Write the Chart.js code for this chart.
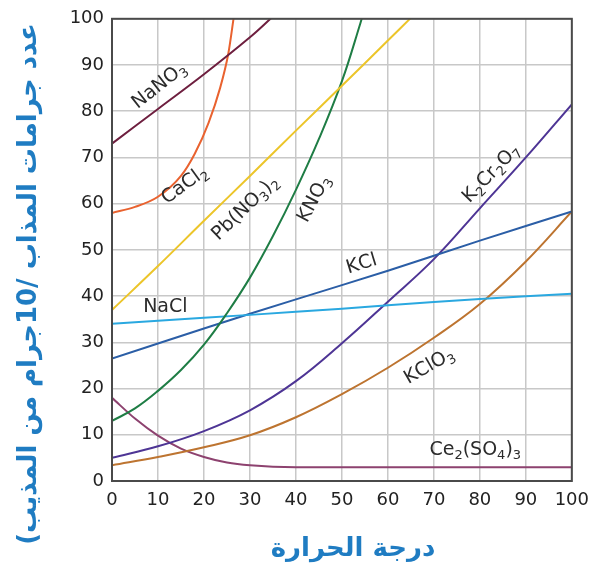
<!DOCTYPE html>
<html lang="ar">
<head>
  <meta charset="UTF-8">
  <title>منحنيات الذوبان</title>
  <script src="https://cdn.jsdelivr.net/npm/chart.js"></script>
  <style>
    body { margin: 0; background: #fff; }
    #wrap { width: 598px; height: 571px; }
  </style>
</head>
<body>
  <div id="wrap">
    <canvas id="myChart" width="598" height="571"></canvas>
  </div>
  <script>
    // [temperature, grams dissolved]
    const NaNO3 = [[0, 73], [10, 80.5], [20, 88], [30, 96], [35, 100.5]];
    const CaCl2 = [[0, 58], [5, 59.3], [10, 61.5], [15, 66], [18, 70.8], [21, 77.5], [23.5, 85], [25.3, 92.5], [26.5, 100.5]];
    const PbNO32 = [[0, 37], [10, 46.5], [20, 56.3], [30, 66], [40, 75.8], [50, 85.5], [60, 95.3], [65, 100.2]];
    const KNO3 = [[0, 13], [5, 15.7], [10, 19.5], [15, 24], [20, 29.5], [25, 36.3], [30, 44], [35, 53], [40, 63], [45, 74], [50, 86.5], [54, 99], [55, 102.5]];
    const NaCl = [[0, 34], [20, 35.3], [40, 36.6], [60, 38], [80, 39.4], [100, 40.5]];
    const KCl = [[0, 26.5], [20, 33], [40, 39.3], [60, 45.5], [80, 52], [100, 58.3]];
    const K2Cr2O7 = [[0, 5], [10, 7.5], [20, 10.8], [30, 15.3], [40, 21.6], [50, 29.8], [60, 38.8], [70, 48], [80, 59], [90, 70], [100, 81.5]];
    const KClO3 = [[0, 3.4], [10, 5.2], [20, 7.3], [30, 9.9], [40, 13.8], [50, 18.8], [60, 24.5], [70, 31], [80, 38.3], [90, 47.5], [100, 58.3]];
    const Ce2SO43 = [[0, 18], [5, 13.5], [10, 9.8], [15, 7], [20, 5.2], [25, 4], [30, 3.4], [40, 3], [60, 3], [80, 3], [100, 3]];

    const tempTicks = [0, 10, 20, 30, 40, 50, 60, 70, 80, 90, 100];
    const massTicks = [0, 10, 20, 30, 40, 50, 60, 70, 80, 90, 100];

    const yTitle = 'عدد جرامات المذاب /10جرام من المذيب)';
    const xTitle = 'درجة الحرارة';

    // "_" marks the next digit as a subscript
    const curveLabels = [
      { text: 'NaNO_3', t: 10.3, s: 85.5, angle: -38 },
      { text: 'CaCl_2', t: 15.8, s: 64, angle: -36 },
      { text: 'Pb(NO_3)_2', t: 29, s: 59, angle: -44 },
      { text: 'KNO_3', t: 44, s: 61, angle: -62 },
      { text: 'K_2Cr_2O_7', t: 82.5, s: 66.5, angle: -46 },
      { text: 'KCl', t: 54.3, s: 46.9, angle: -17 },
      { text: 'NaCl', t: 11.6, s: 37.6, angle: 0 },
      { text: 'KClO_3', t: 69, s: 24.8, angle: -30 },
      { text: 'Ce_2(SO_4)_3', t: 79, s: 6.7, angle: 0 },
    ];

    const toPoints = (arr) => arr.map(([x, y]) => ({ x, y }));

    const series = [
      { label: 'NaNO3', data: NaNO3, color: '#6e1f3f' },
      { label: 'CaCl2', data: CaCl2, color: '#e9622f', monotone: true },
      { label: 'Pb(NO3)2', data: PbNO32, color: '#ecc52a' },
      { label: 'KNO3', data: KNO3, color: '#1f7d45' },
      { label: 'NaCl', data: NaCl, color: '#2aa8e0' },
      { label: 'KCl', data: KCl, color: '#2b5ea6' },
      { label: 'K2Cr2O7', data: K2Cr2O7, color: '#4e3595' },
      { label: 'KClO3', data: KClO3, color: '#bd7430' },
      { label: 'Ce2(SO4)3', data: Ce2SO43, color: '#8d426f', monotone: true },
    ];

    const drawRich = (ctx, text) => {
      const base = '19px "DejaVu Sans"';
      const sub = '13px "DejaVu Sans"';
      const parts = [];
      for (let i = 0; i < text.length; i++) {
        if (text[i] === '_') {
          parts.push({ t: text[i + 1], sub: true });
          i++;
        } else {
          parts.push({ t: text[i], sub: false });
        }
      }
      let total = 0;
      parts.forEach(p => {
        ctx.font = p.sub ? sub : base;
        p.w = ctx.measureText(p.t).width;
        total += p.w;
      });
      let cx = -total / 2;
      ctx.textBaseline = 'middle';
      ctx.textAlign = 'left';
      parts.forEach(p => {
        ctx.font = p.sub ? sub : base;
        ctx.fillText(p.t, cx, p.sub ? 6 : 0);
        cx += p.w;
      });
    };

    const decorations = {
      id: 'decorations',
      afterDatasetsDraw(chart) {
        const { ctx, chartArea: a, scales: { x, y } } = chart;

        ctx.save();
        ctx.strokeStyle = '#4a4a4a';
        ctx.lineWidth = 2;
        ctx.strokeRect(a.left, a.top, a.right - a.left, a.bottom - a.top);
        ctx.restore();

        ctx.fillStyle = '#2b2b2b';
        curveLabels.forEach(l => {
          ctx.save();
          ctx.direction = 'ltr';
          ctx.translate(x.getPixelForValue(l.t), y.getPixelForValue(l.s));
          ctx.rotate(l.angle * Math.PI / 180);
          drawRich(ctx, l.text);
          ctx.restore();
        });

        ctx.save();
        ctx.direction = 'rtl';
        ctx.fillStyle = '#1f7cc2';
        ctx.textAlign = 'center';
        ctx.textBaseline = 'middle';
        ctx.font = 'bold 26px "DejaVu Sans"';
        ctx.translate(29, 284);
        ctx.rotate(-Math.PI / 2);
        ctx.fillText(yTitle, 0, 0);
        ctx.restore();

        ctx.save();
        ctx.direction = 'rtl';
        ctx.fillStyle = '#1f7cc2';
        ctx.textAlign = 'center';
        ctx.textBaseline = 'middle';
        ctx.font = 'bold 26px "DejaVu Sans"';
        ctx.fillText(xTitle, 353, 549);
        ctx.restore();
      }
    };

    const ctx = document.getElementById('myChart');

    const myChart = new Chart(ctx, {
      type: 'line',
      data: {
        datasets: series.map(s => ({
          label: s.label,
          data: toPoints(s.data),
          borderColor: s.color,
          backgroundColor: s.color,
          borderWidth: 2,
          pointRadius: 0,
          tension: 0.4,
          cubicInterpolationMode: s.monotone ? 'monotone' : 'default',
          fill: false,
        }))
      },
      options: {
        responsive: false,
        animation: false,
        events: [],
        layout: { padding: { left: 0, right: 22, top: 15, bottom: 0 } },
        plugins: {
          legend: { display: false },
          tooltip: { enabled: false },
        },
        scales: {
          x: {
            type: 'linear',
            min: 0,
            max: 100,
            afterBuildTicks: (scale) => { scale.ticks = tempTicks.map(v => ({ value: v })); },
            afterFit: (scale) => { scale.height = 90; },
            grid: { color: '#c8c8c8', lineWidth: 1.5, drawTicks: false },
            border: { display: false },
            ticks: {
              padding: 9,
              color: '#222',
              font: { family: 'DejaVu Sans', size: 18 },
              maxRotation: 0,
            },
          },
          y: {
            min: 0,
            max: 100,
            afterBuildTicks: (scale) => { scale.ticks = massTicks.map(v => ({ value: v })); },
            afterFit: (scale) => { scale.width = 112; },
            grid: { color: '#c8c8c8', lineWidth: 1.5, drawTicks: false },
            border: { display: false },
            ticks: {
              padding: 8,
              color: '#222',
              font: { family: 'DejaVu Sans', size: 18 },
            },
          },
        },
      },
      plugins: [decorations],
    });
  </script>
</body>
</html>
